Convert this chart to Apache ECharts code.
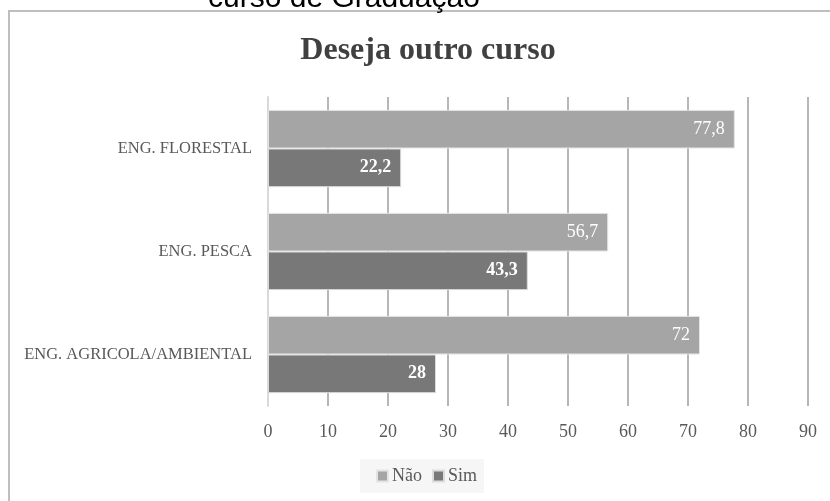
<!DOCTYPE html>
<html>
<head>
<meta charset="utf-8">
<script src="https://cdn.jsdelivr.net/npm/echarts@6/dist/echarts.min.js"></script>
<style>
  html, body { margin: 0; padding: 0; background: #fff; }
  #chart { width: 830px; height: 501px; }
</style>
</head>
<body>
<div id="chart"></div>
<script>
// dados
const categorias = ["ENG. FLORESTAL", "ENG. PESCA", "ENG. AGRICOLA/AMBIENTAL"];
const nao = [77.8, 56.7, 72];
const sim = [22.2, 43.3, 28];
const eixoMax = 90;
const eixoPasso = 10;

const serif = "'Liberation Serif', 'DejaVu Serif', serif";
const fmt = (p) => String(p.value).replace(".", ",");

const chart = echarts.init(document.getElementById("chart"));

const options = {
  animation: false,
  backgroundColor: "#fff",
  title: {
    text: "Deseja outro curso",
    left: 423,
    top: 30,
    textAlign: "center",
    textStyle: {
      fontFamily: serif,
      fontSize: 32,
      fontWeight: "bold",
      color: "#404040",
    },
  },
  graphic: [
    {
      // moldura do gráfico (continua fora da imagem)
      type: "rect",
      z: -1,
      shape: { x: 9, y: 11, width: 2000, height: 2000 },
      style: { fill: "none", stroke: "#bfbfbf", lineWidth: 2 },
    },
    {
      // texto cortado acima do gráfico
      type: "text",
      left: 208,
      top: -16,
      style: {
        text: "curso de Graduação",
        fontFamily: "'Liberation Sans', Arial, sans-serif",
        fontSize: 30,
        fill: "#000",
      },
    },
  ],
  legend: {
    data: ["Não", "Sim"],
    left: 360,
    top: 459,
    icon: "rect",
    itemWidth: 11,
    itemHeight: 11,
    itemGap: 10,
    padding: [8, 7, 8, 16],
    backgroundColor: "#f6f6f6",
    textStyle: { fontFamily: serif, fontSize: 18, color: "#595959", padding: [0, 0, 0, -1] },
  },
  grid: {
    left: 268,
    right: 22,
    top: 97,
    bottom: 95,
    containLabel: false,
  },
  xAxis: {
    type: "value",
    min: 0,
    max: eixoMax,
    interval: eixoPasso,
    axisLine: { show: false },
    axisTick: { show: false },
    axisLabel: {
      margin: 17,
      fontFamily: serif,
      fontSize: 18,
      color: "#595959",
    },
    splitLine: {
      showMinLine: false,
      lineStyle: { color: "#9f9f9f", width: 1.5 },
    },
  },
  yAxis: {
    type: "category",
    data: categorias,
    inverse: true,
    axisLine: { show: true, lineStyle: { color: "#d9d9d9", width: 2 } },
    axisTick: { show: false },
    axisLabel: {
      margin: 16,
      fontFamily: serif,
      fontSize: 16.5,
      color: "#595959",
    },
  },
  series: [
    {
      name: "Não",
      type: "bar",
      data: nao,
      barGap: "0%",
      barCategoryGap: "25%",
      itemStyle: { color: "#a5a5a5", borderColor: "#e4e4e4", borderWidth: 1 },
      label: {
        show: true,
        position: "insideRight",
        distance: 10,
        formatter: fmt,
        fontFamily: serif,
        fontSize: 18,
        color: "#fff",
      },
    },
    {
      name: "Sim",
      type: "bar",
      data: sim,
      itemStyle: { color: "#787878", borderColor: "#dcdcdc", borderWidth: 1 },
      label: {
        show: true,
        position: "insideRight",
        distance: 10,
        formatter: fmt,
        fontFamily: serif,
        fontSize: 18,
        fontWeight: "bold",
        color: "#fff",
      },
    },
  ],
};

chart.setOption(options);
window.addEventListener("resize", () => {
  chart.resize();
});
</script>
</body>
</html>
